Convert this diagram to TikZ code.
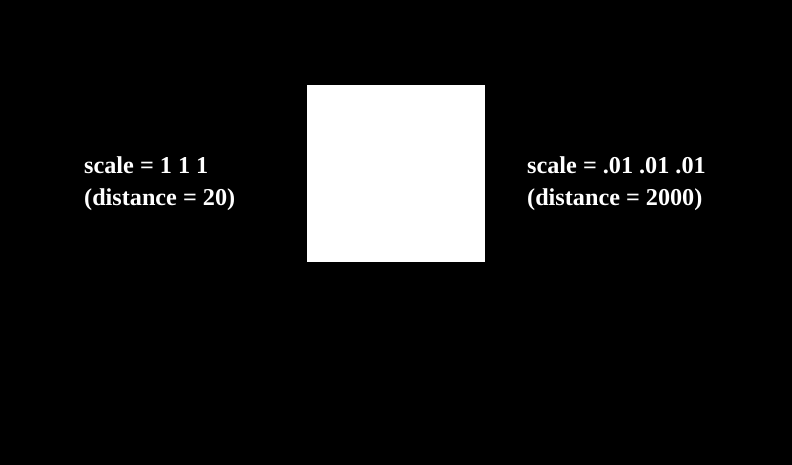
\documentclass[tikz,border=0pt]{standalone}
\usepackage{fontspec}
\setmainfont{Liberation Serif}
\begin{document}
\begin{tikzpicture}[x=1bp,y=-1bp,
  lbl/.style={text=white,font=\fontsize{24.3}{28}\selectfont\bfseries,inner sep=0pt,anchor=base west}]
\fill[black] (0,0) rectangle (792,465);
\useasboundingbox (0,0) rectangle (792,465);
\fill[white] (307,85) rectangle (485,262);
\node[lbl] (l1) at (84,173.5) {scale = 1 1 1};
\node[lbl] (l2) at (84,205.5) {(distance = 20)};
\node[lbl] (r1) at (527,173.5) {scale = .01 .01 .01};
\node[lbl] (r2) at (527,205.5) {(distance = 2000)};
\end{tikzpicture}
\end{document}
